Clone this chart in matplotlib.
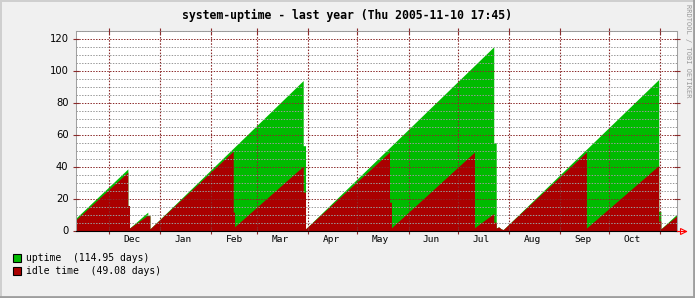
import matplotlib
matplotlib.use("Agg")
import matplotlib.pyplot as plt
import matplotlib.dates as mdates
import matplotlib.ticker as mticker
import pandas as pd
from matplotlib.patches import Rectangle
from matplotlib.lines import Line2D

# ---------------- data ----------------
title = "system-uptime - last year (Thu 2005-11-10 17:45)"
watermark = "RRDTOOL / TOBI OETIKER"
t_start = "2004-11-10 17:45"
t_end = "2005-11-10 17:45"

uptime_t = ["2004-11-10 17:45", "2004-12-12 13:00", "2004-12-12 13:00", "2004-12-13 13:00",
            "2004-12-13 13:00", "2004-12-24 15:20", "2004-12-24 15:20", "2004-12-25 22:30",
            "2004-12-25 22:30", "2005-03-29 01:00", "2005-03-29 01:00", "2005-03-30 10:30",
            "2005-03-30 10:30", "2005-07-22 17:45", "2005-07-22 17:45", "2005-07-24 05:45",
            "2005-07-24 05:45", "2005-07-25 17:45", "2005-07-27 05:45", "2005-07-28 13:00",
            "2005-10-30 22:30", "2005-10-30 22:30", "2005-11-01 05:45", "2005-11-01 05:45",
            "2005-11-10 17:45"]
uptime_v = [7.5, 38.5, 15.6, 15.6,
            1.5, 11.5, 9.4, 9.4,
            1.0, 93.75, 53.0, 53.0,
            1.0, 114.8, 54.8, 54.8,
            1.5, 2.3, 1.0, 0.6,
            94.4, 12.0, 12.0, 1.0,
            10.0]

idle_t = ["2004-11-10 17:45", "2004-12-12 13:00", "2004-12-12 13:00", "2004-12-13 13:00",
          "2004-12-13 13:00", "2004-12-24 15:20", "2004-12-24 15:20", "2004-12-25 22:30",
          "2004-12-25 22:30", "2005-02-14 13:00", "2005-02-14 13:00", "2005-02-15 08:10",
          "2005-02-15 08:10", "2005-03-29 01:00", "2005-03-29 01:00", "2005-03-30 10:30",
          "2005-03-30 10:30", "2005-05-20 10:30", "2005-05-20 10:30", "2005-05-21 15:20",
          "2005-05-21 15:20", "2005-07-11 01:00", "2005-07-11 01:00", "2005-07-22 17:45",
          "2005-07-22 17:45", "2005-07-24 05:45", "2005-07-24 05:45", "2005-07-25 17:45",
          "2005-07-27 05:45", "2005-07-28 13:00", "2005-09-17 01:00", "2005-09-17 01:00",
          "2005-10-30 22:30", "2005-10-30 22:30", "2005-11-01 05:45", "2005-11-01 05:45",
          "2005-11-10 17:45"]
idle_v = [6.5, 36.5, 15.6, 15.6,
          1.5, 9.6, 9.2, 9.2,
          1.0, 49.6, 11.5, 11.5,
          2.3, 40.2, 24.0, 24.0,
          1.0, 49.0, 17.7, 17.7,
          1.7, 49.0, 1.7, 10.6,
          5.2, 5.2, 1.5, 2.3,
          1.0, 0.6, 49.0, 1.5,
          40.6, 5.8, 5.8, 1.0,
          9.0]

y_major = [0, 20, 40, 60, 80, 100, 120]
y_max = 125
legend_labels = ["uptime  (114.95 days)", "idle time  (49.08 days)"]

# ---------------- style ----------------
C_BACK = "#F0F0F0"
C_SHADEA = "#CFCFCF"
C_SHADEB = "#9E9E9E"
C_GRID = "#9A9A9A"
C_MGRID = "#8A2A2A"
C_GREEN = "#00BB00"
C_RED = "#AA0000"
MONO = "DejaVu Sans Mono"

W, H = 695, 298
fig = plt.figure(figsize=(W / 100, H / 100), dpi=100, facecolor=C_BACK)

# 3D-ish border of the image
fig.add_artist(Line2D([0.5 / W, 0.5 / W], [0, 1], color=C_SHADEA, lw=1.4, transform=fig.transFigure))
fig.add_artist(Line2D([0, 1], [1 - 0.5 / H, 1 - 0.5 / H], color=C_SHADEA, lw=1.4, transform=fig.transFigure))
fig.add_artist(Line2D([1 - 1 / W, 1 - 1 / W], [0, 1], color=C_SHADEB, lw=2.0, transform=fig.transFigure))
fig.add_artist(Line2D([0, 1], [1 / H, 1 / H], color=C_SHADEB, lw=2.0, transform=fig.transFigure))

# half-pixel offsets so that 1px lines land on pixel centres
ax = fig.add_axes([75.5 / W, (H - 230.5) / H, 601 / W, 200 / H])
ax.set_facecolor("white")

ut = pd.to_datetime(uptime_t)
it = pd.to_datetime(idle_t)
ax.fill_between(ut, 0, uptime_v, color=C_GREEN, lw=0, zorder=1)
ax.fill_between(it, 0, idle_v, color=C_RED, lw=0, zorder=1.1)

ax.set_xlim(pd.Timestamp(t_start), pd.Timestamp(t_end))
ax.set_ylim(0, y_max)

# grid
ax.set_axisbelow(False)
dots = (0, (1.4, 1.4))
ax.yaxis.set_major_locator(mticker.FixedLocator(y_major))
ax.yaxis.set_minor_locator(mticker.MultipleLocator(5))
ax.yaxis.grid(True, which="minor", color=C_GRID, linestyle=dots, lw=0.72, zorder=2)
ax.yaxis.grid(True, which="major", color=C_MGRID, linestyle=dots, lw=0.72, zorder=2.1)

ax.xaxis.set_major_locator(mdates.MonthLocator(bymonthday=1))
ax.xaxis.set_major_formatter(mticker.NullFormatter())
ax.xaxis.set_minor_locator(mdates.MonthLocator(bymonthday=15))
xmin_num = mdates.date2num(pd.Timestamp(t_start))


def month_fmt(x, pos=None):
    d = mdates.num2date(x)
    first = mdates.date2num(d.replace(day=1, hour=0, minute=0))
    if first < xmin_num:
        return ""
    return d.strftime("%b")


ax.xaxis.set_minor_formatter(mticker.FuncFormatter(month_fmt))
ax.xaxis.grid(True, which="major", color=C_MGRID, linestyle=dots, lw=0.8, zorder=2.1)

ax.tick_params(axis="x", which="major", direction="inout", length=4, width=0.8,
               color=C_MGRID, top=True, bottom=True)
ax.tick_params(axis="x", which="minor", length=0, pad=3.5, labelsize=6.8)
for lab in ax.get_xticklabels(minor=True):
    lab.set_family(MONO)
ax.tick_params(axis="y", which="major", direction="inout", length=4, width=0.8,
               color=C_MGRID, left=True, right=True, pad=3, labelsize=7.2)
ax.tick_params(axis="y", which="minor", length=0)

for side in ("left", "top", "right"):
    ax.spines[side].set_color("#A0A0A0")
    ax.spines[side].set_linewidth(0.75)
ax.spines["bottom"].set_color("black")
ax.spines["bottom"].set_linewidth(0.8)
ax.spines["bottom"].set_zorder(3)

# red arrow at the end of the x axis
ax.plot([1.0, 1.0 + 9 / 601], [0, 0], transform=ax.transAxes, color="red", lw=0.8, clip_on=False, zorder=4)
ax.plot([1.0 + 6 / 601], [0], marker=">", mfc="none", mec="red", mew=0.8, ms=4.5,
        transform=ax.transAxes, clip_on=False, zorder=4)

# title and watermark
fig.text(0.5, (H - 15) / H, title, ha="center", va="center", family=MONO, size=8.3,
         weight="bold")
fig.text(688 / W, (H - 4) / H, watermark, rotation=270, ha="center", va="top",
         family=MONO, size=5, color="#999999")

# legend
for i, (lab, col) in enumerate(zip(legend_labels, [C_GREEN, C_RED])):
    yc = 258.3 + i * 12.4
    fig.add_artist(Rectangle((12.5 / W, (H - yc - 4) / H), 8 / W, 8 / H, transform=fig.transFigure,
                             facecolor=col, edgecolor="black", lw=0.8))
    fig.text(26.5 / W, (H - yc) / H, lab, ha="left", va="center", family=MONO, size=7)

fig.savefig("out.png", dpi=100, facecolor=C_BACK)
